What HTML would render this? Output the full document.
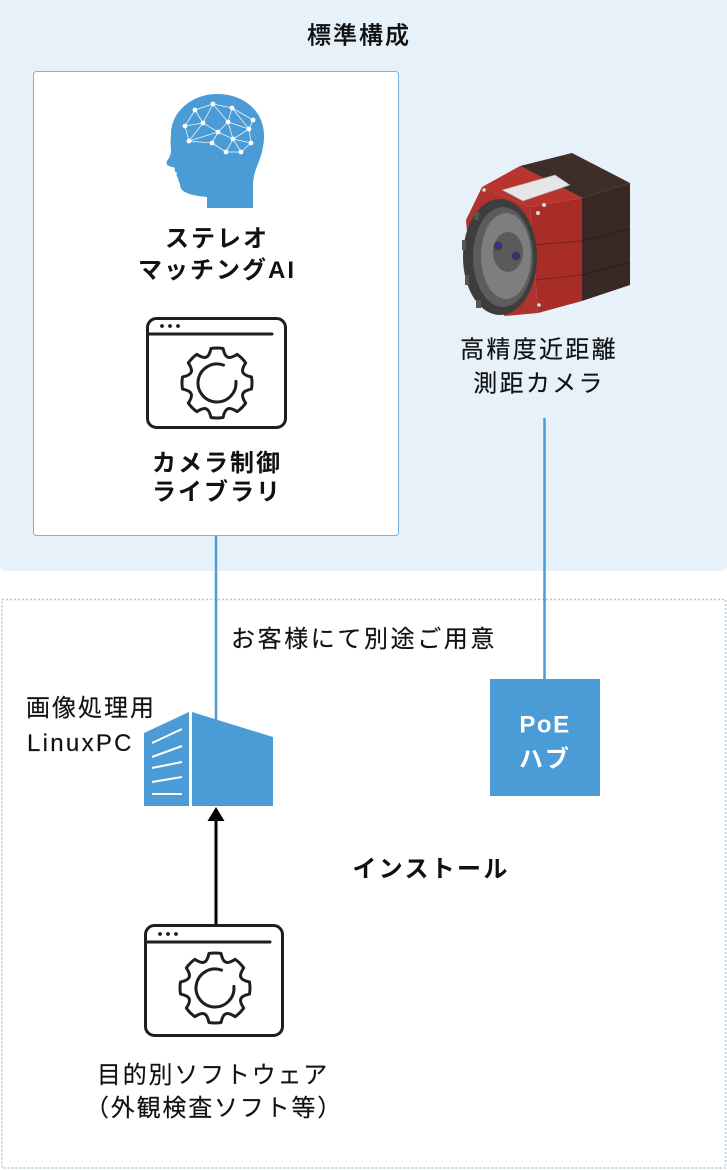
<!DOCTYPE html>
<html><head><meta charset="utf-8">
<style>
html,body{margin:0;padding:0;background:#fff;}
svg{display:block;}
text{font-family:"Liberation Sans","Noto Sans CJK JP",sans-serif;fill:#111;}
.m{stroke:#111;stroke-width:0.15;}
</style></head>
<body>
<svg width="727" height="1170" viewBox="0 0 727 1170" xmlns="http://www.w3.org/2000/svg">
  <!-- top region -->
  <rect x="0" y="-6" width="727" height="577" rx="5" fill="#e7f1fa"/>
  <!-- dotted region -->
  <rect x="2" y="599.5" width="723.5" height="568.5" fill="none" stroke="#a6cbe6" stroke-width="1.5" stroke-dasharray="2 2"/>
  <!-- card -->
  <rect x="33.5" y="71.5" width="365" height="464" rx="3" fill="#fff" stroke="#7db4da" stroke-width="1"/>

  <!-- title -->
  <text x="359" y="43.5" font-size="24" font-weight="500" letter-spacing="2" text-anchor="middle" stroke="#111" stroke-width="0.2">標準構成</text>

  <!-- brain head -->
  <path d="M207,208 L207,197 C198,196 190,195 185,192 C181,190 180,187 180,184 C179,182 178,180 178,178 C177,177 176,175 177,173 C175,172 174,170 175,168 C173,167 171,167 169,166 C166,165 166,163 167,161 C169,158 171,155 171,151 C171,146 170,142 171,136 C170,112 192,94 217,94 C245,94 264,112 264,136 C264,152 258,163 255,172 C253,178 253,184 253,190 L253,208 Z" fill="#4a9bd6"/>
  <g stroke="#fff" stroke-width="0.8" opacity="0.9">
    <line x1="195" y1="110" x2="213" y2="104"/><line x1="213" y1="104" x2="232" y2="108"/>
    <line x1="232" y1="108" x2="253" y2="120"/><line x1="195" y1="110" x2="185" y2="126"/>
    <line x1="195" y1="110" x2="203" y2="123"/><line x1="213" y1="104" x2="203" y2="123"/>
    <line x1="213" y1="104" x2="228" y2="122"/><line x1="232" y1="108" x2="228" y2="122"/>
    <line x1="232" y1="108" x2="249" y2="129"/><line x1="253" y1="120" x2="249" y2="129"/>
    <line x1="185" y1="126" x2="203" y2="123"/><line x1="185" y1="126" x2="189" y2="141"/>
    <line x1="203" y1="123" x2="218" y2="132"/><line x1="203" y1="123" x2="189" y2="141"/>
    <line x1="228" y1="122" x2="218" y2="132"/><line x1="228" y1="122" x2="233" y2="139"/>
    <line x1="228" y1="122" x2="249" y2="129"/><line x1="249" y1="129" x2="251" y2="143"/>
    <line x1="249" y1="129" x2="233" y2="139"/><line x1="218" y1="132" x2="212" y2="143"/>
    <line x1="218" y1="132" x2="233" y2="139"/><line x1="189" y1="141" x2="212" y2="143"/>
    <line x1="212" y1="143" x2="226" y2="152"/><line x1="233" y1="139" x2="226" y2="152"/>
    <line x1="233" y1="139" x2="251" y2="143"/><line x1="233" y1="139" x2="241" y2="152"/>
    <line x1="226" y1="152" x2="241" y2="152"/><line x1="251" y1="143" x2="241" y2="152"/>
    <line x1="189" y1="141" x2="218" y2="132"/>
  </g>
  <g fill="#fff">
    <circle cx="195" cy="110" r="2.4"/><circle cx="213" cy="104" r="2.4"/><circle cx="232" cy="108" r="2.4"/>
    <circle cx="253" cy="120" r="2.4"/><circle cx="185" cy="126" r="2.4"/><circle cx="203" cy="123" r="2.4"/>
    <circle cx="228" cy="122" r="2.4"/><circle cx="249" cy="129" r="2.4"/><circle cx="218" cy="132" r="2.4"/>
    <circle cx="189" cy="141" r="2.4"/><circle cx="212" cy="143" r="2.4"/><circle cx="233" cy="139" r="2.4"/>
    <circle cx="251" cy="143" r="2.4"/><circle cx="226" cy="152" r="2.4"/><circle cx="241" cy="152" r="2.4"/>
  </g>

  <text x="217" y="246.5" font-size="24" font-weight="bold" letter-spacing="2" text-anchor="middle">ステレオ</text>
  <text x="217" y="278" font-size="24" font-weight="bold" letter-spacing="2" text-anchor="middle">マッチングAI</text>

  <!-- window icon top -->
  <g fill="none" stroke="#1e1e1e" stroke-width="3" stroke-linecap="round" stroke-linejoin="round">
    <rect x="147.5" y="318.5" width="138" height="109" rx="9"/>
    <line x1="148" y1="334" x2="272" y2="334"/>
    <g transform="translate(217,383)">
      <path d="M34.47,-6.08 A35,35 0 0 1 34.47,6.08 C24.73,8.03 23.17,11.80 28.67,20.08 A35,35 0 0 1 20.08,28.67 C11.80,23.17 8.03,24.73 6.08,34.47 A35,35 0 0 1 -6.08,34.47 C-8.03,24.73 -11.80,23.17 -20.08,28.67 A35,35 0 0 1 -28.67,20.08 C-23.17,11.80 -24.73,8.03 -34.47,6.08 A35,35 0 0 1 -34.47,-6.08 C-24.73,-8.03 -23.17,-11.80 -28.67,-20.08 A35,35 0 0 1 -20.08,-28.67 C-11.80,-23.17 -8.03,-24.73 -6.08,-34.47 A35,35 0 0 1 6.08,-34.47 C8.03,-24.73 11.80,-23.17 20.08,-28.67 A35,35 0 0 1 28.67,-20.08 C23.17,-11.80 24.73,-8.03 34.47,-6.08 Z"/>
      <path d="M18.93,-1.66 A19,19 0 1 1 6.5,-17.85"/>
    </g>
  </g>
  <g fill="#1e1e1e"><circle cx="162" cy="326" r="1.9"/><circle cx="170" cy="326" r="1.9"/><circle cx="178" cy="326" r="1.9"/></g>

  <text x="217" y="471" font-size="24" font-weight="bold" letter-spacing="2" text-anchor="middle">カメラ制御</text>
  <text x="217" y="500" font-size="24" font-weight="bold" letter-spacing="2" text-anchor="middle">ライブラリ</text>

  <!-- camera -->
  <g>
    <polygon points="520,166 572,153 630,183 582,198" fill="#3f2d29"/>
    <polygon points="482,187 520,166 582,198 530,207" fill="#b8352f"/>
    <polygon points="502,190 555,175 570,185 523,201" fill="#e6e6e6" stroke="#999" stroke-width="0.6"/>
    <polygon points="530,207 582,198 582,301 538,313" fill="#a82d28"/>
    <polygon points="582,198 630,183 630,285 582,301" fill="#3a2824"/>
    <line x1="532" y1="245" x2="582" y2="241" stroke="#7a1f1c" stroke-width="1"/>
    <line x1="582" y1="241" x2="630" y2="229" stroke="#2a1c19" stroke-width="1"/>
    <line x1="536" y1="280" x2="582" y2="275" stroke="#7a1f1c" stroke-width="1"/>
    <line x1="582" y1="275" x2="630" y2="262" stroke="#2a1c19" stroke-width="1"/>
    <polygon points="482,187 530,207 538,313 505,316 472,290 466,220" fill="#b0322d"/>
    <ellipse cx="500" cy="257" rx="37" ry="58" fill="#3d3d3d"/>
    <g fill="#555">
      <rect x="462" y="240" width="4" height="10"/>
      <rect x="465" y="275" width="4" height="10"/>
      <rect x="474" y="212" width="5" height="8"/>
      <rect x="476" y="300" width="5" height="8"/>
    </g>
    <ellipse cx="503" cy="257" rx="30" ry="50" fill="#5c5c5c"/>
    <ellipse cx="506" cy="256" rx="25" ry="43" fill="#7e7e7e"/>
    <ellipse cx="508" cy="252" rx="15" ry="20" fill="#5a5a5a"/>
    <circle cx="498" cy="246" r="4.2" fill="#3a3a3a"/><circle cx="498" cy="246" r="2" fill="#2233cc"/>
    <circle cx="516" cy="256" r="4.2" fill="#3a3a3a"/><circle cx="516" cy="256" r="2" fill="#2233cc"/>
    <circle cx="538" cy="213" r="2" fill="#ddd"/><circle cx="544" cy="205" r="2" fill="#ddd"/>
    <circle cx="484" cy="190" r="1.8" fill="#ddd"/><circle cx="539" cy="305" r="1.8" fill="#ddd"/>
  </g>

  <text class="m" x="539" y="357.5" font-size="24" letter-spacing="2.3" text-anchor="middle">高精度近距離</text>
  <text class="m" x="539" y="391.5" font-size="24" letter-spacing="2.3" text-anchor="middle">測距カメラ</text>

  <!-- connectors -->
  <line x1="216" y1="536" x2="216" y2="720" stroke="#4a9bd6" stroke-width="2.5"/>
  <line x1="544.5" y1="418" x2="544.5" y2="680" stroke="#4a9bd6" stroke-width="2.5"/>

  <!-- PoE box -->
  <rect x="490" y="679" width="110" height="117" fill="#4a9bd6"/>
  <text x="545" y="732.5" font-size="24" font-weight="bold" letter-spacing="1.5" text-anchor="middle" style="fill:#fff">PoE</text>
  <text x="545" y="767" font-size="24" font-weight="bold" letter-spacing="2" text-anchor="middle" style="fill:#fff">ハブ</text>

  <text class="m" x="364" y="647" font-size="24" letter-spacing="2.6" text-anchor="middle">お客様にて別途ご用意</text>

  <text class="m" x="26" y="716" font-size="24" letter-spacing="2">画像処理用</text>
  <text class="m" x="27" y="751" font-size="24" letter-spacing="2.3">LinuxPC</text>

  <!-- server -->
  <polygon points="144,733 189,712 189,806 144,806" fill="#4a9bd6"/>
  <polygon points="192,712 273,737 273,806 192,806" fill="#4a9bd6"/>
  <g stroke="#fff" stroke-width="2">
    <line x1="152" y1="743" x2="182" y2="729"/>
    <line x1="152" y1="757" x2="182" y2="746"/>
    <line x1="152" y1="768" x2="182" y2="762"/>
    <line x1="152" y1="782" x2="182" y2="777"/>
    <line x1="152" y1="794" x2="182" y2="794"/>
  </g>

  <!-- arrow -->
  <line x1="216" y1="924" x2="216" y2="818" stroke="#000" stroke-width="3"/>
  <polygon points="216,807 207.5,821 224.5,821" fill="#000"/>

  <text x="431" y="877" font-size="24" font-weight="bold" letter-spacing="2.3" text-anchor="middle">インストール</text>

  <!-- window icon bottom -->
  <g fill="none" stroke="#1e1e1e" stroke-width="3" stroke-linecap="round" stroke-linejoin="round">
    <rect x="145.5" y="925.5" width="137" height="110" rx="9"/>
    <line x1="146" y1="942" x2="270" y2="942"/>
    <g transform="translate(215,988)">
      <path d="M34.47,-6.08 A35,35 0 0 1 34.47,6.08 C24.73,8.03 23.17,11.80 28.67,20.08 A35,35 0 0 1 20.08,28.67 C11.80,23.17 8.03,24.73 6.08,34.47 A35,35 0 0 1 -6.08,34.47 C-8.03,24.73 -11.80,23.17 -20.08,28.67 A35,35 0 0 1 -28.67,20.08 C-23.17,11.80 -24.73,8.03 -34.47,6.08 A35,35 0 0 1 -34.47,-6.08 C-24.73,-8.03 -23.17,-11.80 -28.67,-20.08 A35,35 0 0 1 -20.08,-28.67 C-11.80,-23.17 -8.03,-24.73 -6.08,-34.47 A35,35 0 0 1 6.08,-34.47 C8.03,-24.73 11.80,-23.17 20.08,-28.67 A35,35 0 0 1 28.67,-20.08 C23.17,-11.80 24.73,-8.03 34.47,-6.08 Z"/>
      <path d="M18.93,-1.66 A19,19 0 1 1 6.5,-17.85"/>
    </g>
  </g>
  <g fill="#1e1e1e"><circle cx="160" cy="934" r="1.9"/><circle cx="168" cy="934" r="1.9"/><circle cx="176" cy="934" r="1.9"/></g>

  <text class="m" x="213" y="1083" font-size="24" letter-spacing="1.8" text-anchor="middle">目的別ソフトウェア</text>
  <text class="m" x="214" y="1116" font-size="24" letter-spacing="1.8" text-anchor="middle">（外観検査ソフト等）</text>
</svg>
</body></html>
